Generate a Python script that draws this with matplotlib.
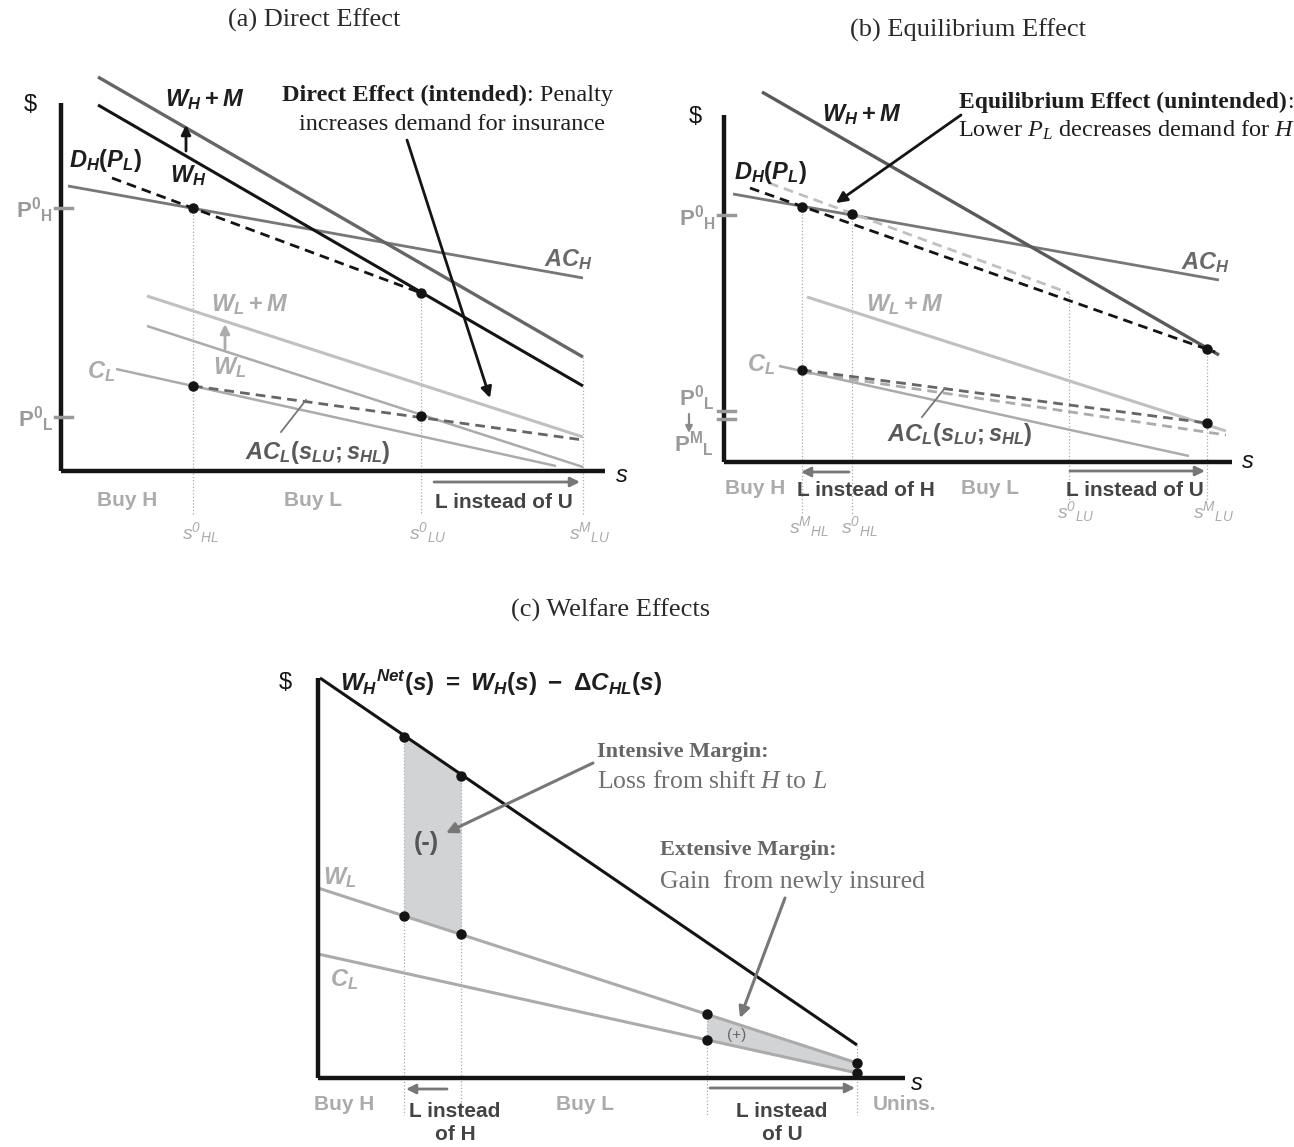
import numpy as np
import matplotlib
matplotlib.use("Agg")
import matplotlib.pyplot as plt

plt.rcParams.update({
    'font.family': ['Liberation Sans', 'DejaVu Sans'],
    'mathtext.fontset': 'custom',
    'mathtext.rm': 'Liberation Sans:bold',
    'mathtext.it': 'Liberation Sans:italic:bold',
    'mathtext.bf': 'Liberation Sans:bold',
    'mathtext.tt': 'Liberation Sans:italic',
    'mathtext.cal': 'Liberation Serif:italic',
    'mathtext.sf': 'Liberation Sans',
})

W, H = 1294, 1147

# ---------------- Panel (a): Direct effect (s, $ units) ----------------
A_WHM_S, A_WHM = [37, 522], [394, 114]        # W_H + M
A_WH_S, A_WH = [37, 522], [366, 85]           # W_H
A_DH_S, A_DH = [51, 360], [293, 178]          # D_H(P_L) dashed
A_ACH_S, A_ACH = [7, 522], [285, 193]         # AC_H
A_WLM_S, A_WLM = [86, 522], [175, 34]         # W_L + M
A_WL_S, A_WL = [86, 522], [145, 4]            # W_L
A_CL_S, A_CL = [55, 495], [102, 5]            # C_L
A_ACL_S, A_ACL = [132, 522], [85, 31]         # AC_L dashed
A_PT_S, A_PT = [132, 360, 132, 360], [263, 178, 85, 55]
A_CUT_S, A_CUT_TOP = [132, 360, 522], [263, 178, 114]
A_CUT_LABELS = [r'$\mathtt{s^{0}{}_{HL}}$', r'$\mathtt{s^{0}{}_{LU}}$', r'$\mathtt{s^{M}{}_{LU}}$']
A_PRICE = [263, 54]
A_PRICE_LABELS = [r'$\mathrm{P^{0}{}_{H}}$', r'$\mathrm{P^{0}{}_{L}}$']

# ---------------- Panel (b): Equilibrium effect ----------------
B_WHM_S, B_WHM = [38, 495], [370, 107]
B_ACH_S, B_ACH = [9, 495], [268, 182]
B_DH_S, B_DH = [26, 491], [274, 110]           # new D_H(P_L) (black dashed)
B_DH0_S, B_DH0 = [45, 345], [279, 169]         # old D_H (light dashed)
B_WLM_S, B_WLM = [83, 502], [165, 31]
B_CL_S, B_CL = [55, 465], [96, 6]
B_ACL0_S, B_ACL0 = [78, 483], [92, 39]         # AC_L old (dark dashed)
B_ACL1_S, B_ACL1 = [78, 502], [90, 27]         # AC_L new (light dashed)
B_PT_S, B_PT = [78, 128, 483, 78, 483], [255, 248, 113, 92, 39]
B_CUT_S, B_CUT_TOP, B_CUT_BOT = [78, 128, 345, 483], [255, 248, 169, 113], [-53, -53, -38, -38]
B_CUT_LABELS = [r'$\mathtt{s^{M}{}_{HL}}$', r'$\mathtt{s^{0}{}_{HL}}$',
                r'$\mathtt{s^{0}{}_{LU}}$', r'$\mathtt{s^{M}{}_{LU}}$']
B_PRICE = [247, 51, 43]

# ---------------- Panel (c): Welfare effects ----------------
C_WHN_S, C_WHN = [2, 539], [400, 33]
C_WL_S, C_WL = [0, 539], [190, 15]
C_CL_S, C_CL = [0, 539], [124, 5]
C_INT_S, C_INT_TOP, C_INT_BOT = [86, 143], [341, 302], [162, 144]
C_EXT_S, C_EXT_TOP, C_EXT_BOT = [389, 539], [64, 15], [38, 5]
C_PT_S = [86, 143, 86, 143, 389, 389, 539, 539]
C_PT = [341, 302, 162, 144, 64, 38, 15, 5]
C_CUT_S, C_CUT_TOP = [86, 143, 389, 539], [341, 302, 64, 33]

BLACK = '#141414'
DARK = '#4a4a4a'
MID = '#6e6e6e'
LIGHT = '#ababab'
VLIGHT = '#c0c0c0'

fig = plt.figure(figsize=(W / 100, H / 100), dpi=100)
fig.patch.set_facecolor('white')


def panel(l, t, r, b, ox, oy):
    ax = fig.add_axes([l / W, 1 - b / H, (r - l) / W, (b - t) / H])
    ax.set_xlim(l - ox, r - ox)
    ax.set_ylim(oy - b, oy - t)
    ax.axis('off')
    return ax


def line(ax, s, y, color, lw=2.0, ls='-', dashes=None, z=2):
    kw = dict(color=color, lw=lw, solid_capstyle='butt', zorder=z)
    if dashes is not None:
        kw['dashes'] = dashes
    ax.plot(s, y, ls, **kw)


def arrow(ax, start, end, color, lw=2.0, ms=16):
    ax.annotate('', xy=end, xytext=start,
                arrowprops=dict(arrowstyle='-|>', color=color, lw=lw,
                                mutation_scale=ms, shrinkA=0, shrinkB=0),
                zorder=5)


def txt(ax, x, y, s, size=16, color=DARK, ha='center', va='center', **kw):
    ax.text(x, y, s, fontsize=size, color=color, ha=ha, va=va, **kw)


SERIF = ['Liberation Serif', 'DejaVu Serif']
TS = 19   # title size
AS = 17.5  # annotation serif size

# titles
fig.text(314 / W, 1 - 20 / H, '(a) Direct Effect', fontsize=TS, family=SERIF,
         color='#2a2a2a', ha='center', va='center')
fig.text(968 / W, 1 - 30 / H, '(b) Equilibrium Effect', fontsize=TS, family=SERIF,
         color='#2a2a2a', ha='center', va='center')
fig.text(611 / W, 1 - 610 / H, '(c) Welfare Effects', fontsize=TS, family=SERIF,
         color='#2a2a2a', ha='center', va='center')

# ======================= Panel (a) =======================
ax = panel(0, 0, 647, 560, 61, 471)
for s, top in zip(A_CUT_S, A_CUT_TOP):
    ax.plot([s, s], [top, -44], color=LIGHT, lw=0.9, ls=':', zorder=1)
line(ax, A_ACH_S, A_ACH, '#777777', 2.0)
line(ax, A_WHM_S, A_WHM, '#666666', 2.4)
line(ax, A_WH_S, A_WH, BLACK, 2.2)
line(ax, A_DH_S, A_DH, BLACK, 2.0, '--', (3.5, 2.2))
line(ax, A_WLM_S, A_WLM, VLIGHT, 2.2)
line(ax, A_WL_S, A_WL, LIGHT, 1.8)
line(ax, A_CL_S, A_CL, LIGHT, 1.8)
line(ax, A_ACL_S, A_ACL, '#666666', 2.0, '--', (3.5, 2.2))
ax.plot(A_PT_S, A_PT, 'o', color=BLACK, ms=6.5, zorder=6)
# axes
ax.plot([0, 0], [0, 368], color=BLACK, lw=3.2, solid_capstyle='butt', zorder=4)
ax.plot([0, 544], [0, 0], color=BLACK, lw=3.2, solid_capstyle='butt', zorder=4)
txt(ax, -31, 366, r'\$', 17, BLACK)
txt(ax, 561, -5, 's', 17, BLACK, style='italic')
for p, lab in zip(A_PRICE, A_PRICE_LABELS):
    ax.plot([-6, 11], [p, p], color='#999999', lw=2.5, zorder=4)
    txt(ax, -8, p - 2, lab, 16, '#9a9a9a', ha='right')
# curve labels
txt(ax, 144, 371, r'$W_H + M$', 17, '#1e1e1e')
txt(ax, 127, 295, r'$W_H$', 17, '#1e1e1e')
arrow(ax, (125, 320), (125, 346), BLACK, 2.0, 14)
txt(ax, 44, 311, r'$D_H(P_L)$', 17, '#1e1e1e')
txt(ax, 507, 211, r'$AC_H$', 17, '#6a6a6a')
txt(ax, 189, 166, r'$W_L + M$', 17, LIGHT)
txt(ax, 169, 103, r'$W_L$', 17, LIGHT)
arrow(ax, (164, 122), (164, 147), LIGHT, 2.0, 14)
txt(ax, 40, 99, r'$C_L$', 17, LIGHT)
txt(ax, 257, 18, r'$AC_L(s_{LU};s_{HL})$', 17, '#5a5a5a')
ax.plot([220, 245], [39, 71], color='#777777', lw=1.3, zorder=3)
# annotation
ax.text(466, 370, 'Direct Effect (intended)', fontsize=AS, family=SERIF,
        weight='bold', color='#1e1e1e', ha='right', va='baseline')
ax.text(466, 370, ': Penalty', fontsize=AS, family=SERIF,
        color='#1e1e1e', ha='left', va='baseline')
ax.text(391, 341, 'increases demand for insurance', fontsize=AS, family=SERIF,
        color='#1e1e1e', ha='center', va='baseline')
arrow(ax, (346, 331), (429, 73), BLACK, 2.0, 16)
# x labels
txt(ax, 66, -29, 'Buy H', 15, LIGHT, weight='bold')
txt(ax, 252, -29, 'Buy L', 15, LIGHT, weight='bold')
txt(ax, 443, -31, 'L instead of U', 15, '#444444', weight='bold')
arrow(ax, (373, -11), (519, -11), '#777777', 2.0, 14)
for s, lab in zip(A_CUT_S, A_CUT_LABELS):
    txt(ax, s + 7, -62, lab, 14, LIGHT)

# ======================= Panel (b) =======================
ax = panel(647, 0, 1294, 560, 724, 462)
for s, top, bot in zip(B_CUT_S, B_CUT_TOP, B_CUT_BOT):
    ax.plot([s, s], [top, bot], color=LIGHT, lw=0.9, ls=':', zorder=1)
line(ax, B_ACH_S, B_ACH, '#777777', 2.0)
line(ax, B_WHM_S, B_WHM, '#5a5a5a', 2.4)
line(ax, B_DH0_S, B_DH0, VLIGHT, 2.0, '--', (3.5, 2.2))
line(ax, B_DH_S, B_DH, BLACK, 2.0, '--', (3.5, 2.2))
line(ax, B_WLM_S, B_WLM, VLIGHT, 2.2)
line(ax, B_CL_S, B_CL, LIGHT, 1.8)
line(ax, B_ACL1_S, B_ACL1, LIGHT, 2.0, '--', (3.5, 2.2))
line(ax, B_ACL0_S, B_ACL0, '#666666', 2.0, '--', (3.5, 2.2))
ax.plot(B_PT_S, B_PT, 'o', color=BLACK, ms=6.5, zorder=6)
ax.plot([0, 0], [0, 347], color=BLACK, lw=3.2, solid_capstyle='butt', zorder=4)
ax.plot([0, 508], [0, 0], color=BLACK, lw=3.2, solid_capstyle='butt', zorder=4)
txt(ax, -29, 345, r'\$', 17, BLACK)
txt(ax, 524, 0, 's', 17, BLACK, style='italic')
for p in B_PRICE:
    ax.plot([-6, 11], [p, p], color='#999999', lw=2.5, zorder=4)
txt(ax, -8, 244, r'$\mathrm{P^{0}{}_{H}}$', 16, '#9a9a9a', ha='right')
txt(ax, -10, 64, r'$\mathrm{P^{0}{}_{L}}$', 16, '#9a9a9a', ha='right')
arrow(ax, (-35, 48), (-35, 29), '#8a8a8a', 1.6, 10)
txt(ax, -10, 18, r'$\mathrm{P^{M}{}_{L}}$', 16, '#9a9a9a', ha='right')
txt(ax, 138, 347, r'$W_H + M$', 17, '#1e1e1e')
txt(ax, 46, 289, r'$D_H(P_L)$', 17, '#1e1e1e')
txt(ax, 481, 199, r'$AC_H$', 17, '#6a6a6a')
txt(ax, 181, 157, r'$W_L + M$', 17, LIGHT)
txt(ax, 37, 97, r'$C_L$', 17, LIGHT)
txt(ax, 236, 27, r'$AC_L(s_{LU};s_{HL})$', 17, '#5a5a5a')
ax.plot([198, 221], [45, 74], color='#777777', lw=1.3, zorder=3)
ax.text(563, 354, 'Equilibrium Effect (unintended)', fontsize=17, family=SERIF,
        weight='bold', color='#1e1e1e', ha='right', va='baseline')
ax.text(563, 354, ':', fontsize=17, family=SERIF, color='#1e1e1e',
        ha='left', va='baseline')
ax.text(403, 325, r'Lower $\mathcal{P_L}$ decreases demand for $\mathcal{H}$',
        fontsize=AS, family=SERIF, color='#1e1e1e', ha='center', va='baseline')
arrow(ax, (237, 347), (112, 259), BLACK, 2.0, 16)
txt(ax, 31, -26, 'Buy H', 15, LIGHT, weight='bold')
txt(ax, 142, -28, 'L instead of H', 15, '#444444', weight='bold')
arrow(ax, (125, -10), (77, -10), '#777777', 2.0, 14)
txt(ax, 266, -26, 'Buy L', 15, LIGHT, weight='bold')
txt(ax, 411, -28, 'L instead of U', 15, '#444444', weight='bold')
arrow(ax, (346, -9), (481, -9), '#777777', 2.0, 14)
for s, bot, lab in zip(B_CUT_S, B_CUT_BOT, B_CUT_LABELS):
    txt(ax, s + 7, bot - 12, lab, 14, LIGHT)

# ======================= Panel (c) =======================
ax = panel(0, 560, 1294, 1147, 318, 1078)
for s, top in zip(C_CUT_S, C_CUT_TOP):
    ax.plot([s, s], [top, -37], color=LIGHT, lw=0.9, ls=':', zorder=1)
ax.fill_between(C_INT_S, C_INT_BOT, C_INT_TOP, color='#d2d3d5', lw=0, zorder=0.5)
ax.fill_between(C_EXT_S, C_EXT_BOT, C_EXT_TOP, color='#d2d3d5', lw=0, zorder=0.5)
line(ax, C_WHN_S, C_WHN, BLACK, 2.2)
line(ax, C_WL_S, C_WL, LIGHT, 2.2)
line(ax, C_CL_S, C_CL, LIGHT, 2.2)
ax.plot(C_PT_S, C_PT, 'o', color=BLACK, ms=6.5, zorder=6)
ax.plot([0, 0], [0, 400], color=BLACK, lw=3.2, solid_capstyle='butt', zorder=4)
ax.plot([0, 587], [0, 0], color=BLACK, lw=3.2, solid_capstyle='butt', zorder=4)
txt(ax, -33, 395, r'\$', 17, BLACK)
txt(ax, 599, -5, 's', 17, BLACK, style='italic')
txt(ax, 22, 395, r'$W_H{}^{Net}(s)\ =\ W_H(s)\ -\ \Delta C_{HL}(s)$', 17.5, '#1e1e1e', ha='left')
txt(ax, 22, 200, r'$W_L$', 17, LIGHT)
txt(ax, 26, 98, r'$C_L$', 17, LIGHT)
txt(ax, 108, 235, '(-)', 18, '#555555', weight='bold')
txt(ax, 419, 43, '(+)', 11, '#666666')
ax.text(279, 321, 'Intensive Margin:', fontsize=16, family=SERIF, weight='bold',
        color='#666666', ha='left', va='baseline')
ax.text(279, 290, r'Loss from shift $\mathcal{H}$ to $\mathcal{L}$', fontsize=18.5,
        family=SERIF, color='#707070', ha='left', va='baseline')
arrow(ax, (275, 315), (128, 245), '#777777', 2.2, 16)
ax.text(342, 223, 'Extensive Margin:', fontsize=16, family=SERIF, weight='bold',
        color='#666666', ha='left', va='baseline')
ax.text(342, 190, 'Gain  from newly insured', fontsize=18.5,
        family=SERIF, color='#707070', ha='left', va='baseline')
arrow(ax, (467, 180), (422, 60), '#777777', 2.2, 16)
txt(ax, 26, -27, 'Buy H', 15, LIGHT, weight='bold')
txt(ax, 137, -45, 'L instead\nof H', 15, '#444444', weight='bold', linespacing=1.3)
arrow(ax, (129, -11), (88, -11), '#777777', 2.0, 14)
txt(ax, 267, -27, 'Buy L', 15, LIGHT, weight='bold')
txt(ax, 464, -45, 'L instead\nof U', 15, '#444444', weight='bold', linespacing=1.3)
arrow(ax, (392, -10), (537, -10), '#777777', 2.0, 14)
txt(ax, 587, -27, 'Unins.', 15, LIGHT, weight='bold')

fig.savefig('out.png', dpi=100, facecolor='white')
